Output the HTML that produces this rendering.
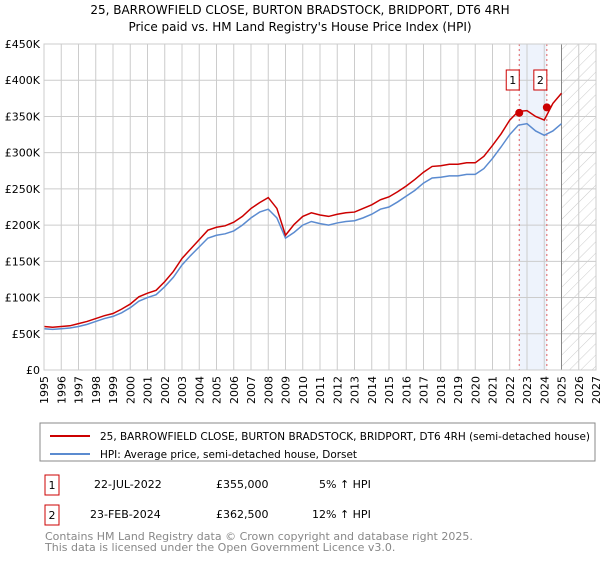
<!DOCTYPE html>
<html><head><meta charset="utf-8"><style>
body{margin:0;background:#fff;font-family:"Liberation Sans","DejaVu Sans",sans-serif;}
svg text{font-family:"DejaVu Sans","Liberation Sans",sans-serif;}
</style></head><body>
<svg id="c" width="600" height="560" xmlns="http://www.w3.org/2000/svg">
<defs><pattern id="hatch" patternUnits="userSpaceOnUse" width="8" height="8" patternTransform="rotate(45)"><line x1="0" y1="0" x2="0" y2="8" stroke="#ccc" stroke-width="1"/></pattern></defs>
<text x="300" y="14" text-anchor="middle" font-size="12">25, BARROWFIELD CLOSE, BURTON BRADSTOCK, BRIDPORT, DT6 4RH</text>
<text x="300" y="31" text-anchor="middle" font-size="12">Price paid vs. HM Land Registry's House Price Index (HPI)</text>
<g id="plot"></g>
<rect x="40" y="423" width="555" height="38" fill="#fff" stroke="#888"/>
<line x1="50" y1="436" x2="90" y2="436" stroke="#cc0000" stroke-width="2"/>
<text x="100" y="440" font-size="11" textLength="490" lengthAdjust="spacingAndGlyphs">25, BARROWFIELD CLOSE, BURTON BRADSTOCK, BRIDPORT, DT6 4RH (semi-detached house)</text>
<line x1="50" y1="454" x2="90" y2="454" stroke="#5b8bd0" stroke-width="2"/>
<text x="100" y="458" font-size="11" textLength="257" lengthAdjust="spacingAndGlyphs">HPI: Average price, semi-detached house, Dorset</text>
<g font-size="11">
<rect x="45" y="475" width="14" height="20" fill="#fff" stroke="#cc0000"/><text x="52" y="489" text-anchor="middle">1</text>
<text x="94" y="488">22-JUL-2022</text><text x="216" y="488">£355,000</text><text x="319" y="488">5% ↑ HPI</text>
<rect x="45" y="505" width="14" height="20" fill="#fff" stroke="#cc0000"/><text x="52" y="519" text-anchor="middle">2</text>
<text x="90" y="518">23-FEB-2024</text><text x="216" y="518">£362,500</text><text x="312" y="518">12% ↑ HPI</text>
</g>
<text x="45" y="540" font-size="11" fill="#888">Contains HM Land Registry data © Crown copyright and database right 2025.</text>
<text x="45" y="551" font-size="11" fill="#888">This data is licensed under the Open Government Licence v3.0.</text>
</svg>
<script>
const years=[];for(let y=1995;y<=2025.001;y+=0.5)years.push(y);
const hpiValues=[57,56,57,58,60,63,67,71,74,79,86,95,100,104,115,128,145,158,170,182,186,188,192,200,210,218,222,210,182,190,200,205,202,200,203,205,206,210,215,222,225,232,240,248,258,265,266,268,268,270,270,278,292,308,325,338,340,330,324,330,340];
const priceValues=[60,59,60,61,64,67,71,75,78,84,91,101,106,110,122,136,154,167,180,193,197,199,204,212,223,231,238,223,186,201,212,217,214,212,215,217,218,223,228,235,239,246,254,263,273,281,282,284,284,286,286,295,310,326,345,357,358,350,345,368,382];
const saleDates=[2022.55,2024.15];
const salePrices=[355,362.5];
const saleLabels=["1","2"];
const yTicks=[0,50,100,150,200,250,300,350,400,450];
const xTicks=[];for(let y=1995;y<=2027;y++)xTicks.push(y);
const L=44,R=596,T=44,B=370;
const X=y=>L+(y-1995)*(R-L)/32;
const Y=v=>B-v*(B-T)/450;
const g=document.getElementById('plot');const NS="http://www.w3.org/2000/svg";
function mk(t,a){const e=document.createElementNS(NS,t);for(const k in a)e.setAttribute(k,a[k]);g.appendChild(e);return e;}
let e=mk('rect',{x:X(saleDates[0]),y:T,width:X(saleDates[1])-X(saleDates[0]),height:B-T,fill:'#eef3fc'});


e=mk('rect',{x:X(2025),y:T,width:R-X(2025),height:B-T,fill:'url(#hatch)'});


yTicks.forEach(v=>{
 e=mk('line',{x1:L,x2:R,y1:Y(v),y2:Y(v),stroke:'#ccc'});
 
 
 e=mk('text',{x:40,y:Y(v)+4,'text-anchor':'end','font-size':11});e.textContent=v===0?'£0':'£'+v+'K';
 
 
});
xTicks.forEach(y=>{
 e=mk('line',{x1:X(y),x2:X(y),y1:T,y2:B,stroke:'#ccc'});
 
 
 e=mk('text',{x:0,y:0,'text-anchor':'end','font-size':11,transform:`translate(${X(y)+4},376) rotate(-90)`});e.textContent=y;
 
 
});
e=mk('line',{x1:X(2025),x2:X(2025),y1:T,y2:B,stroke:'#888'});


saleDates.forEach(d=>{e=mk('line',{x1:X(d),x2:X(d),y1:T,y2:B,stroke:'#e06060','stroke-dasharray':'2,3'});
 
 });
const pts=a=>a.map((v,i)=>X(years[i])+','+Y(v)).join(' ');
e=mk('polyline',{points:pts(hpiValues),fill:'none',stroke:'#5b8bd0','stroke-width':1.5});


e=mk('polyline',{points:pts(priceValues),fill:'none',stroke:'#cc0000','stroke-width':1.5});


saleDates.forEach((d,i)=>{
 e=mk('circle',{cx:X(d),cy:Y(salePrices[i]),r:4,fill:'#cc0000'});
 
 
 e=mk('rect',{x:X(d)-13,y:70,width:13,height:20,fill:'#fff',stroke:'#cc0000'});
 
 
 e=mk('text',{x:X(d)-6.5,y:84,'text-anchor':'middle','font-size':11});e.textContent=saleLabels[i];
 
 
});
e=mk('rect',{x:L,y:T,width:R-L,height:B-T,fill:'none',stroke:'#ccc'});


</script>
</body></html>
